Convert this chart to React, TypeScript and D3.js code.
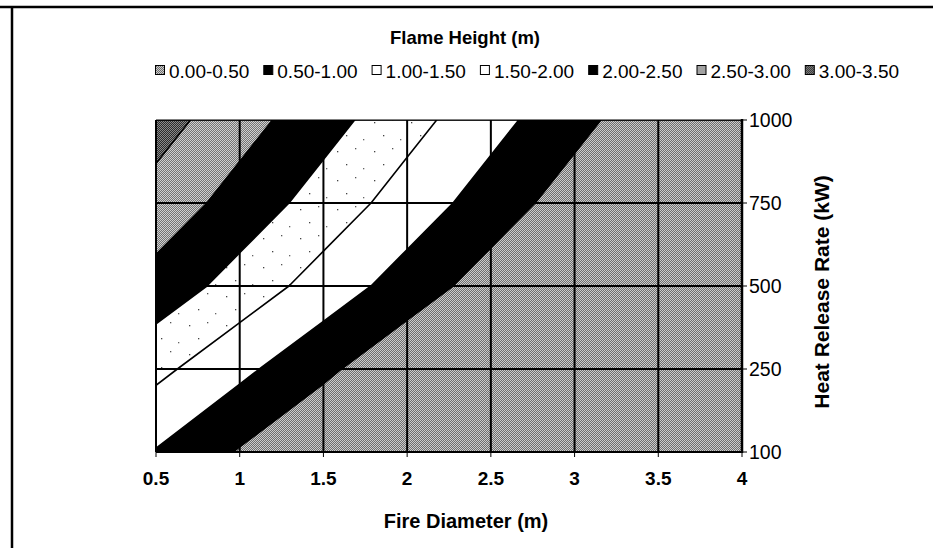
import React from "react";
import * as d3 from "d3";

// ---- data ----
const FIRE_DIAMETER = [0.5, 1, 1.5, 2, 2.5, 3, 3.5, 4];
const HEAT_RELEASE = [100, 250, 500, 750, 1000];
const HEIGHT_Q100 = [0.97, 0.46, 0, 0, 0, 0, 0, 0];
const HEIGHT_Q250 = [1.63, 1.12, 0.61, 0.1, 0, 0, 0, 0];
const HEIGHT_Q500 = [2.31, 1.8, 1.29, 0.78, 0.27, 0, 0, 0];
const HEIGHT_Q750 = [2.81, 2.3, 1.79, 1.28, 0.77, 0.26, 0, 0];
const HEIGHT_Q1000 = [3.21, 2.7, 2.19, 1.68, 1.17, 0.66, 0.15, 0];
const BAND_LOWER = [0, 0.5, 1.0, 1.5, 2.0, 2.5, 3.0];
const BAND_LABELS = ["0.00-0.50", "0.50-1.00", "1.00-1.50", "1.50-2.00", "2.00-2.50", "2.50-3.00", "3.00-3.50"];
const X_TICK_LABELS = ["0.5", "1", "1.5", "2", "2.5", "3", "3.5", "4"];
const Y_TICK_LABELS = ["100", "250", "500", "750", "1000"];

const BAND_FILLS = [
  "url(#pGray)",
  "#000",
  "#fff",
  "url(#pDots)",
  "#000",
  "url(#pGray2)",
  "url(#pDark)",
];

const W = 933;
const H = 548;
const FONT = "'Liberation Sans', Arial, sans-serif";

export default function App() {
  const left = 156, right = 742, top = 120, bottom = 452;
  const x = d3.scaleLinear().domain([FIRE_DIAMETER[0], FIRE_DIAMETER[FIRE_DIAMETER.length - 1]]).range([left, right]);
  const yPoint = d3.scalePoint<number>().domain(HEAT_RELEASE).range([bottom, top]);
  const xIdx = d3.scaleLinear().domain([0, FIRE_DIAMETER.length - 1]).range([left, right]);
  const yIdx = d3.scaleLinear().domain([0, HEAT_RELEASE.length - 1]).range([bottom, top]);

  const rows = [HEIGHT_Q100, HEIGHT_Q250, HEIGHT_Q500, HEIGHT_Q750, HEIGHT_Q1000];
  const nx = FIRE_DIAMETER.length, ny = HEAT_RELEASE.length;
  const values: number[] = [];
  rows.forEach((r) => r.forEach((v) => values.push(v)));
  const contours = d3.contours().size([nx, ny]).thresholds(BAND_LOWER)(values);

  const mapPt = (p: number[]) => {
    const xi = Math.max(0, Math.min(nx - 1, p[0] - 0.5));
    const yi = Math.max(0, Math.min(ny - 1, p[1] - 0.5));
    return [xIdx(xi), yIdx(yi)];
  };
  const toPath = (mp: any) =>
    mp.coordinates
      .map((poly: number[][][]) =>
        poly
          .map((ring) => "M" + ring.map((p) => mapPt(p).map((v) => v.toFixed(2)).join(",")).join("L") + "Z")
          .join("")
      )
      .join("");

  const legendStart = 155;
  const legendStep = 108.3;

  return (
    <svg width={W} height={H} style={{ position: "absolute", left: 0, top: 0, background: "#fff" }} fontFamily={FONT}>
      <defs>
        <pattern id="pGray" width="2" height="2" patternUnits="userSpaceOnUse">
          <rect width="2" height="2" fill="#cccccc" />
          <rect x="1" y="0" width="1" height="1" fill="#6e6e6e" />
          <rect x="0" y="1" width="1" height="1" fill="#6e6e6e" />
        </pattern>
        <pattern id="pGray2" width="2" height="2" patternUnits="userSpaceOnUse">
          <rect width="2" height="2" fill="#d0d0d0" />
          <rect x="1" y="0" width="1" height="1" fill="#747474" />
          <rect x="0" y="1" width="1" height="1" fill="#747474" />
        </pattern>
        <pattern id="pDark" width="2" height="2" patternUnits="userSpaceOnUse">
          <rect width="2" height="2" fill="#8a8a8a" />
          <rect x="1" y="0" width="1" height="1" fill="#2c2c2c" />
          <rect x="0" y="1" width="1" height="1" fill="#2c2c2c" />
        </pattern>
        <pattern id="pDots" width="37" height="29" patternUnits="userSpaceOnUse">
          <rect width="37" height="29" fill="#fff" />
          <rect x="4" y="6" width="1.3" height="1.3" fill="#444" />
          <rect x="22" y="3" width="1.3" height="1.3" fill="#555" />
          <rect x="13" y="19" width="1.3" height="1.3" fill="#444" />
          <rect x="30" y="23" width="1.3" height="1.3" fill="#666" />
        </pattern>
        <clipPath id="plotClip">
          <rect x={left} y={top} width={right - left} height={bottom - top} />
        </clipPath>
      </defs>

      {/* outer frame */}
      <line x1={0} x2={W} y1={7} y2={7} stroke="#000" strokeWidth={2.5} />
      <line x1={12} x2={12} y1={6} y2={H} stroke="#000" strokeWidth={2.5} />

      {/* title */}
      <text x={465} y={44} textAnchor="middle" fontSize={18.5} fontWeight="bold">Flame Height (m)</text>

      {/* legend */}
      {BAND_LABELS.map((lab, i) => (
        <g key={lab} transform={`translate(${legendStart + i * legendStep},0)`}>
          <rect x={0.5} y={65.5} width={9} height={9} fill={BAND_FILLS[i]} stroke="#000" strokeWidth={1} />
          <text x={14} y={78} fontSize={19}>{lab}</text>
        </g>
      ))}

      {/* contour bands */}
      <g clipPath="url(#plotClip)">
        {contours.map((c, i) => (
          <path key={i} d={toPath(c)} fill={BAND_FILLS[i]} fillRule="evenodd" stroke="#000" strokeWidth={1.6} strokeLinejoin="round" />
        ))}
      </g>

      {/* grid */}
      {FIRE_DIAMETER.map((d) => (
        <line key={"gx" + d} x1={x(d)} x2={x(d)} y1={top} y2={bottom} stroke="#000" strokeWidth={2} />
      ))}
      {HEAT_RELEASE.map((q) => (
        <line key={"gy" + q} x1={left} x2={right} y1={yPoint(q)} y2={yPoint(q)} stroke="#000" strokeWidth={q === 1000 ? 1.2 : 2} />
      ))}
      <line x1={right} x2={right} y1={top - 1} y2={bottom + 1} stroke="#000" strokeWidth={2.5} />

      {/* x axis ticks & labels */}
      {FIRE_DIAMETER.map((d, i) => (
        <g key={"xt" + d}>
          <line x1={x(d)} x2={x(d)} y1={bottom} y2={bottom + 5} stroke="#000" strokeWidth={1} />
          <text x={x(d)} y={485} textAnchor="middle" fontSize={19} fontWeight="bold">{X_TICK_LABELS[i]}</text>
        </g>
      ))}

      {/* right axis ticks & labels */}
      {HEAT_RELEASE.map((q, i) => (
        <g key={"yt" + q}>
          <line x1={right} x2={right + 5} y1={yPoint(q)} y2={yPoint(q)} stroke="#000" strokeWidth={1} />
          <text x={749} y={(yPoint(q) as number) + 7} fontSize={19.5}>{Y_TICK_LABELS[i]}</text>
        </g>
      ))}

      {/* axis titles */}
      <text x={466} y={528} textAnchor="middle" fontSize={20} fontWeight="bold">Fire Diameter (m)</text>
      <text transform={`translate(829,292) rotate(-90)`} textAnchor="middle" fontSize={21} fontWeight="bold">Heat Release Rate (kW)</text>
    </svg>
  );
}
